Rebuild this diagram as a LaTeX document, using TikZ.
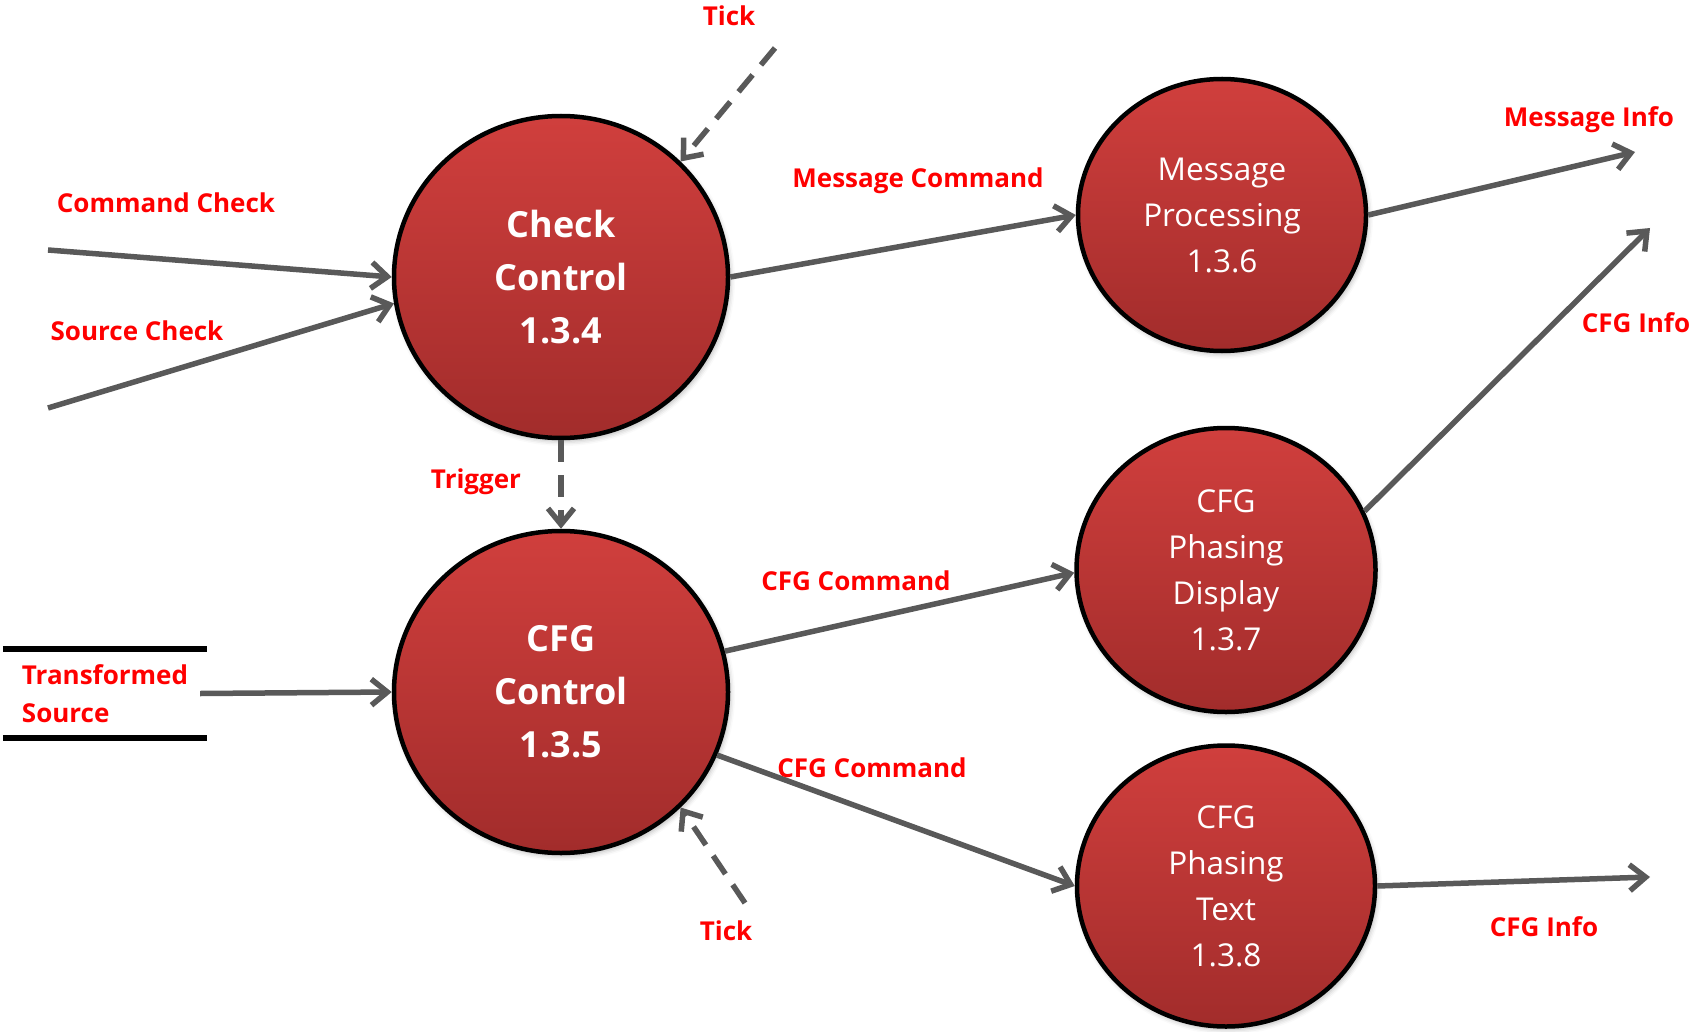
\documentclass[tikz,border=0pt]{standalone}
\usepackage{fontspec}
\setmainfont{Open Sans}
\usetikzlibrary{arrows.meta,shapes.geometric,shadows.blur}
\definecolor{flowgray}{HTML}{595959}
\definecolor{bubtop}{HTML}{D03F3D}
\definecolor{bubbot}{HTML}{A22C2B}
\definecolor{lblred}{HTML}{FF0000}

\begin{document}
\begin{tikzpicture}[x=1pt,y=-1pt,
  bubble/.style={ellipse, draw=black, line width=4.5pt, top color=bubtop,
    bottom color=bubbot, text=white, align=center, inner sep=0pt,
    blur shadow={shadow xshift=2pt, shadow yshift=-3pt, shadow blur radius=5pt,
      shadow opacity=30}},
  boldtext/.style={font=\fontsize{36}{53}\selectfont\bfseries},
  plaintext/.style={font=\fontsize{31.5}{46}\selectfont},
  flow/.style={draw=flowgray, line width=5.5pt,
    -{Straight Barb[length=16pt,width=26pt]}},
  tickflow/.style={flow, dash pattern=on 22pt off 13pt},
  lbl/.style={text=lblred, font=\fontsize{26}{38}\selectfont\bfseries, inner sep=0pt},
]
\useasboundingbox (0,0) rectangle (1696,1032);

% processes
\node[bubble, boldtext, minimum width=334pt, minimum height=322pt] (chk) at (561,277) {Check\\Control\\1.3.4};
\node[bubble, boldtext, minimum width=334pt, minimum height=322pt] (cfg) at (561,692) {CFG\\Control\\1.3.5};
\node[bubble, plaintext, minimum width=288pt, minimum height=272pt] (msg) at (1222,215) {Message\\Processing\\1.3.6};
\node[bubble, plaintext, minimum width=299pt, minimum height=284pt] (disp) at (1226,570) {CFG\\Phasing\\Display\\1.3.7};
\node[bubble, plaintext, minimum width=298pt, minimum height=281pt] (txt) at (1226,886) {CFG\\Phasing\\Text\\1.3.8};

% data store
\node[lbl, align=left, minimum width=204pt, minimum height=89pt] (store) at (105,693.5) {Transformed\\Source};
\draw[line width=6pt] (store.north west) -- (store.north east);
\draw[line width=6pt] (store.south west) -- (store.south east);

% free ends of the flows
\coordinate (cmdin) at (48,250);
\coordinate (srcin) at (48,408);
\coordinate (tickin) at (775,48);
\coordinate (tickin2) at (745,903);
\coordinate (msgout) at (1635,152);
\coordinate (dispout) at (1650,228);
\coordinate (txtout) at (1650,877);

% flows
\draw[flow] (cmdin) -- (chk.180);
\draw[flow] (srcin) -- (chk.189);
\draw[tickflow] (tickin) -- (chk.44);
\draw[flow] (chk.0) -- (msg.180);
\draw[tickflow] (chk.270) -- (cfg.90);
\draw[flow] (msg.0) -- (msgout);
\draw[flow] ([xshift=-7pt]store.east) -- (cfg.180);
\draw[flow] (cfg.14) -- (disp.181);
\draw[flow] (cfg.338) -- (txt.180);
\draw[tickflow] (tickin2) -- (cfg.316);
\draw[flow] (disp.23) -- (dispout);
\draw[flow] (txt.0) -- (txtout);

% flow labels
\node[lbl] (l1) at (729,16) {Tick};
\node[lbl] (l2) at (166,203) {Command Check};
\node[lbl] (l3) at (137,331) {Source Check};
\node[lbl] (l4) at (918,181) {Message Command};
\node[lbl] (l5) at (1589,120) {Message Info};
\node[lbl] (l6) at (1636,323) {CFG Info};
\node[lbl] (l7) at (476,482) {Trigger};
\node[lbl] (l8) at (856,581) {CFG Command};
\node[lbl] (l9) at (872,768) {CFG Command};
\node[lbl] (l10) at (726,931) {Tick};
\node[lbl] (l11) at (1544,927) {CFG Info};
\end{tikzpicture}
\end{document}
